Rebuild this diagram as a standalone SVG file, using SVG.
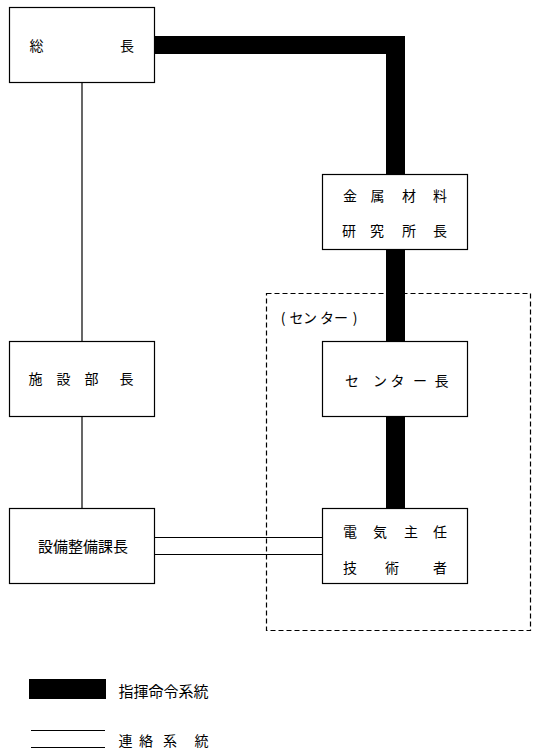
<svg xmlns="http://www.w3.org/2000/svg" width="539" height="755" viewBox="0 0 539 755">
<style>
.box{fill:#fff;stroke:#000;stroke-width:1.2}
.thin{stroke:#000;stroke-width:1.2;fill:none}
.thick{fill:#000;stroke:none}
text{font-family:"Noto Sans CJK JP","Noto Sans CJK SC",sans-serif;font-size:14px;fill:#000;text-anchor:middle;dominant-baseline:central}
</style>
<rect width="539" height="755" fill="#fff"/>
<g id="center-group">
<rect x="266.5" y="293.5" width="264" height="337" fill="none" stroke="#000" stroke-width="1.2" stroke-dasharray="5,3"/>
<text x="283 296.5 310 327 341 355" y="317">(センター)</text>
</g>
<g id="connectors">
<path class="thick" d="M155,36 H405 V174 H386 V54 H155 Z"/>
<rect class="thick" x="386" y="249" width="19" height="92"/>
<rect class="thick" x="386" y="416" width="19" height="92"/>
<line class="thin" x1="82" y1="82" x2="82" y2="341"/>
<line class="thin" x1="82" y1="416" x2="82" y2="508"/>
<line class="thin" x1="155" y1="537.5" x2="322" y2="537.5"/>
<line class="thin" x1="155" y1="554.5" x2="322" y2="554.5"/>
</g>
<g id="soucho">
<rect class="box" x="9.5" y="7.5" width="145" height="75"/>
<text x="36.5 127" y="45">総長</text>
</g>
<g id="kinzoku">
<rect class="box" x="322.5" y="174.5" width="145" height="75"/>
<text x="350 377.5 409 440" y="195">金属材料</text>
<text x="349 377 409 440" y="230">研究所長</text>
</g>
<g id="shisetsu">
<rect class="box" x="9.5" y="341.5" width="145" height="75"/>
<text x="35.5 63.5 91.5 126.5" y="378">施設部長</text>
</g>
<g id="centercho">
<rect class="box" x="322.5" y="341.5" width="145" height="75"/>
<text x="352 380 397.5 420 441.5" y="380">センター長</text>
</g>
<g id="setsubi">
<rect class="box" x="9.5" y="508.5" width="145" height="75"/>
<text x="83" y="545" style="font-size:15px">設備整備課長</text>
</g>
<g id="denki">
<rect class="box" x="322.5" y="508.5" width="145" height="75"/>
<text x="350 380 411 440" y="531">電気主任</text>
<text x="350 392 440" y="567">技術者</text>
</g>
<g id="legend">
<rect class="thick" x="29" y="679" width="77" height="20"/>
<text x="163.5" y="690" style="font-size:15px">指揮命令系統</text>
<line class="thin" x1="31" y1="730.5" x2="105" y2="730.5"/>
<line class="thin" x1="31" y1="747.5" x2="105" y2="747.5"/>
<text x="125.5 146 170 201.5" y="740">連絡系統</text>
</g>
</svg>
